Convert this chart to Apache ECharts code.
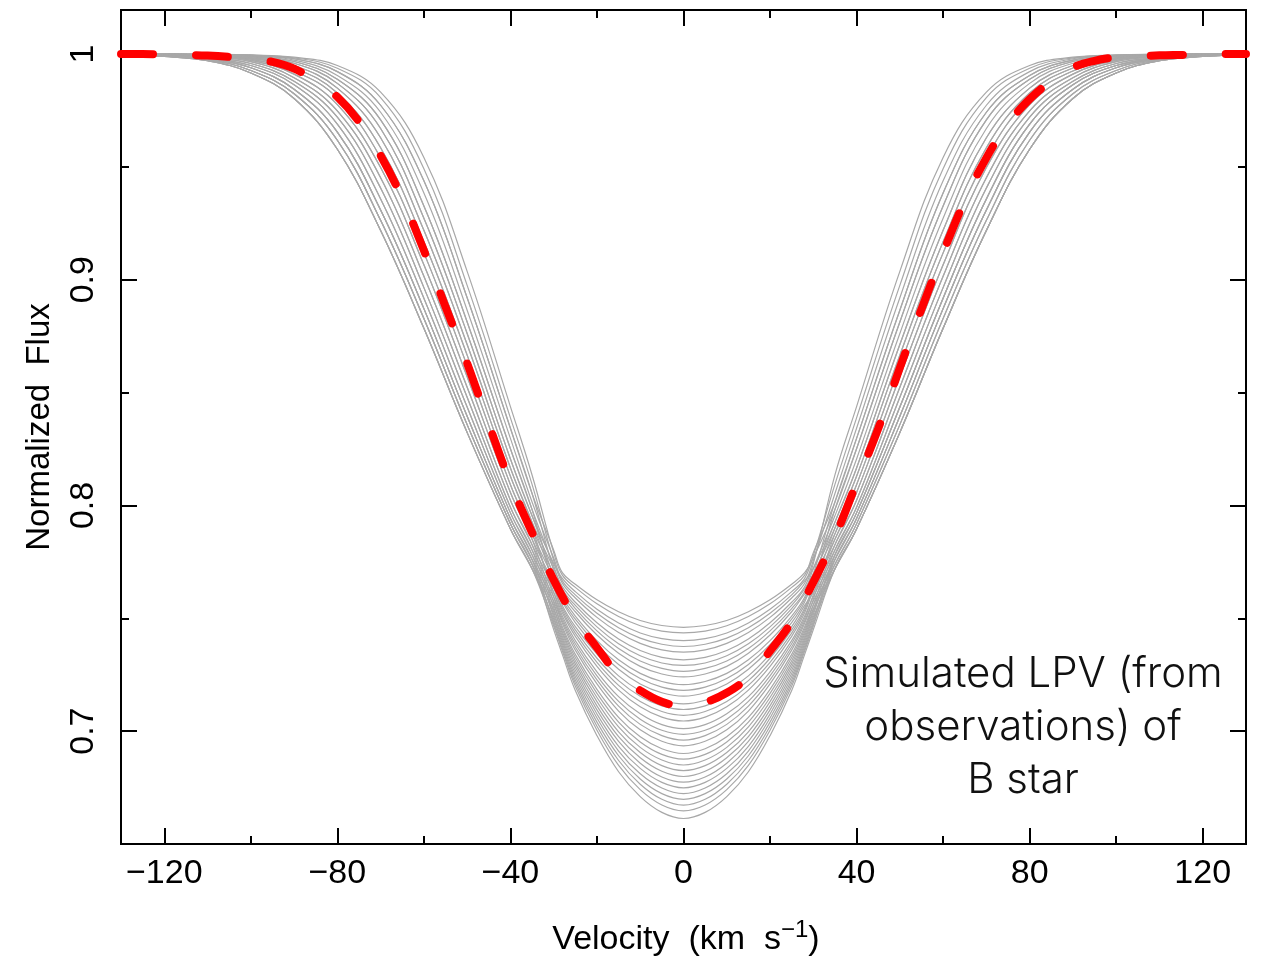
<!DOCTYPE html>
<html>
<head>
<meta charset="utf-8">
<script src="https://cdn.jsdelivr.net/npm/echarts@6/dist/echarts.min.js"></script>
<style>
html,body{margin:0;padding:0;background:#fff;}
#chart{width:1261px;height:959px;}
</style>
</head>
<body>
<div id="chart"></div>
<script>
// Velocity grids (km/s)
const velocityWing = [35, 40, 50, 60, 70, 80, 90, 100, 110, 120, 130];
const velocityCore = [-30, -28, -25, -20, -15, -10, -5, 0, 5, 10, 15, 20, 25, 28, 30];

// Wing profiles (flux at |v| = velocityWing), narrow -> wide
const wingProfiles = [
  [0.8135, 0.8438, 0.9037, 0.9542, 0.9831, 0.9949, 0.9986, 0.9996, 0.9999, 1.0, 1.0],
  [0.8093, 0.8388, 0.8975, 0.9492, 0.9807, 0.9937, 0.9983, 0.9995, 0.9999, 1.0, 1.0],
  [0.8053, 0.8342, 0.8920, 0.9438, 0.9773, 0.9922, 0.9979, 0.9994, 0.9998, 1.0, 1.0],
  [0.8015, 0.8297, 0.8865, 0.9384, 0.9742, 0.9905, 0.9973, 0.9992, 0.9998, 1.0, 1.0],
  [0.7982, 0.8251, 0.8813, 0.9327, 0.9708, 0.9888, 0.9967, 0.9990, 0.9997, 0.9999, 1.0],
  [0.7954, 0.8206, 0.8762, 0.9272, 0.9670, 0.9870, 0.9959, 0.9988, 0.9996, 0.9999, 1.0],
  [0.7926, 0.8166, 0.8713, 0.9219, 0.9629, 0.9849, 0.9949, 0.9984, 0.9995, 0.9999, 1.0],
  [0.7900, 0.8129, 0.8666, 0.9168, 0.9585, 0.9827, 0.9938, 0.9981, 0.9994, 0.9998, 1.0],
  [0.7874, 0.8092, 0.8619, 0.9119, 0.9540, 0.9805, 0.9925, 0.9977, 0.9993, 0.9998, 1.0],
  [0.7850, 0.8057, 0.8570, 0.9066, 0.9497, 0.9776, 0.9911, 0.9972, 0.9990, 0.9997, 0.9999],
  [0.7826, 0.8023, 0.8524, 0.9015, 0.9452, 0.9748, 0.9895, 0.9966, 0.9988, 0.9996, 0.9999],
  [0.7803, 0.7992, 0.8479, 0.8965, 0.9406, 0.9720, 0.9879, 0.9958, 0.9985, 0.9995, 0.9999],
  [0.7781, 0.7967, 0.8436, 0.8918, 0.9358, 0.9689, 0.9864, 0.9949, 0.9982, 0.9994, 0.9998],
  [0.7760, 0.7942, 0.8395, 0.8872, 0.9309, 0.9654, 0.9844, 0.9939, 0.9979, 0.9993, 0.9998],
  [0.7739, 0.7919, 0.8358, 0.8828, 0.9263, 0.9618, 0.9824, 0.9927, 0.9975, 0.9990, 0.9997],
  [0.7719, 0.7896, 0.8323, 0.8785, 0.9218, 0.9578, 0.9803, 0.9916, 0.9970, 0.9989, 0.9996]
];

// Line cores (flux at velocityCore), shallow -> deep
const coreProfiles = [
  [0.7802, 0.7702, 0.7651, 0.7582, 0.7529, 0.7490, 0.7468, 0.7460, 0.7468, 0.7490, 0.7529, 0.7582, 0.7651, 0.7702, 0.7768],
  [0.7791, 0.7691, 0.7637, 0.7564, 0.7508, 0.7467, 0.7443, 0.7435, 0.7443, 0.7467, 0.7508, 0.7564, 0.7637, 0.7691, 0.7791],
  [0.7743, 0.7677, 0.7618, 0.7540, 0.7479, 0.7435, 0.7410, 0.7401, 0.7410, 0.7435, 0.7479, 0.7540, 0.7618, 0.7677, 0.7778],
  [0.7767, 0.7666, 0.7604, 0.7522, 0.7458, 0.7412, 0.7385, 0.7375, 0.7385, 0.7412, 0.7458, 0.7522, 0.7604, 0.7666, 0.7720],
  [0.7756, 0.7655, 0.7590, 0.7504, 0.7437, 0.7389, 0.7360, 0.7350, 0.7360, 0.7389, 0.7437, 0.7504, 0.7590, 0.7655, 0.7756],
  [0.7720, 0.7640, 0.7571, 0.7480, 0.7408, 0.7357, 0.7327, 0.7316, 0.7327, 0.7357, 0.7408, 0.7480, 0.7571, 0.7640, 0.7742],
  [0.7732, 0.7630, 0.7557, 0.7462, 0.7387, 0.7334, 0.7302, 0.7291, 0.7302, 0.7334, 0.7387, 0.7462, 0.7557, 0.7630, 0.7697],
  [0.7697, 0.7619, 0.7543, 0.7444, 0.7366, 0.7311, 0.7278, 0.7265, 0.7278, 0.7311, 0.7366, 0.7444, 0.7543, 0.7619, 0.7721],
  [0.7711, 0.7608, 0.7529, 0.7426, 0.7345, 0.7287, 0.7253, 0.7240, 0.7253, 0.7287, 0.7345, 0.7426, 0.7529, 0.7608, 0.7654],
  [0.7675, 0.7593, 0.7510, 0.7401, 0.7316, 0.7256, 0.7220, 0.7206, 0.7220, 0.7256, 0.7316, 0.7401, 0.7510, 0.7593, 0.7696],
  [0.7686, 0.7583, 0.7496, 0.7383, 0.7295, 0.7233, 0.7195, 0.7181, 0.7195, 0.7233, 0.7295, 0.7383, 0.7496, 0.7583, 0.7675],
  [0.7654, 0.7572, 0.7481, 0.7365, 0.7274, 0.7209, 0.7170, 0.7155, 0.7170, 0.7209, 0.7274, 0.7365, 0.7481, 0.7572, 0.7676],
  [0.7661, 0.7557, 0.7463, 0.7341, 0.7245, 0.7178, 0.7137, 0.7121, 0.7137, 0.7178, 0.7245, 0.7341, 0.7463, 0.7557, 0.7614],
  [0.7634, 0.7546, 0.7449, 0.7323, 0.7224, 0.7155, 0.7112, 0.7096, 0.7112, 0.7155, 0.7224, 0.7323, 0.7449, 0.7546, 0.7650],
  [0.7641, 0.7536, 0.7434, 0.7305, 0.7203, 0.7131, 0.7087, 0.7070, 0.7087, 0.7131, 0.7203, 0.7305, 0.7434, 0.7536, 0.7634],
  [0.7614, 0.7525, 0.7420, 0.7287, 0.7182, 0.7108, 0.7062, 0.7045, 0.7062, 0.7108, 0.7182, 0.7287, 0.7420, 0.7525, 0.7630],
  [0.7615, 0.7510, 0.7401, 0.7263, 0.7153, 0.7077, 0.7029, 0.7011, 0.7029, 0.7077, 0.7153, 0.7263, 0.7401, 0.7510, 0.7595],
  [0.7595, 0.7499, 0.7387, 0.7245, 0.7132, 0.7053, 0.7004, 0.6986, 0.7004, 0.7053, 0.7132, 0.7245, 0.7387, 0.7499, 0.7605],
  [0.7594, 0.7488, 0.7373, 0.7227, 0.7111, 0.7030, 0.6980, 0.6960, 0.6980, 0.7030, 0.7111, 0.7227, 0.7373, 0.7488, 0.7577],
  [0.7577, 0.7478, 0.7359, 0.7209, 0.7089, 0.7006, 0.6955, 0.6935, 0.6955, 0.7006, 0.7089, 0.7209, 0.7359, 0.7478, 0.7584],
  [0.7570, 0.7463, 0.7340, 0.7185, 0.7061, 0.6975, 0.6922, 0.6901, 0.6922, 0.6975, 0.7061, 0.7185, 0.7340, 0.7463, 0.7559],
  [0.7559, 0.7452, 0.7326, 0.7167, 0.7040, 0.6952, 0.6897, 0.6876, 0.6897, 0.6952, 0.7040, 0.7167, 0.7326, 0.7452, 0.7559],
  [0.7548, 0.7441, 0.7312, 0.7149, 0.7019, 0.6928, 0.6872, 0.6850, 0.6872, 0.6928, 0.7019, 0.7149, 0.7312, 0.7441, 0.7542],
  [0.7538, 0.7431, 0.7298, 0.7131, 0.6997, 0.6905, 0.6847, 0.6825, 0.6847, 0.6905, 0.6997, 0.7131, 0.7298, 0.7431, 0.7538],
  [0.7528, 0.7420, 0.7284, 0.7112, 0.6976, 0.6882, 0.6822, 0.6799, 0.6822, 0.6882, 0.6976, 0.7112, 0.7284, 0.7420, 0.7528],
  [0.7517, 0.7409, 0.7270, 0.7094, 0.6955, 0.6858, 0.6797, 0.6774, 0.6797, 0.6858, 0.6955, 0.7094, 0.7270, 0.7409, 0.7517],
  [0.7506, 0.7398, 0.7255, 0.7076, 0.6933, 0.6835, 0.6773, 0.6749, 0.6773, 0.6835, 0.6933, 0.7076, 0.7255, 0.7398, 0.7506],
  [0.7496, 0.7387, 0.7241, 0.7058, 0.6912, 0.6811, 0.6748, 0.6723, 0.6748, 0.6811, 0.6912, 0.7058, 0.7241, 0.7387, 0.7496],
  [0.7485, 0.7376, 0.7227, 0.7040, 0.6891, 0.6788, 0.6723, 0.6698, 0.6723, 0.6788, 0.6891, 0.7040, 0.7227, 0.7376, 0.7485],
  [0.7475, 0.7365, 0.7213, 0.7022, 0.6870, 0.6765, 0.6698, 0.6672, 0.6698, 0.6765, 0.6870, 0.7022, 0.7213, 0.7365, 0.7475],
  [0.7466, 0.7355, 0.7199, 0.7004, 0.6848, 0.6741, 0.6673, 0.6647, 0.6673, 0.6741, 0.6848, 0.7004, 0.7199, 0.7355, 0.7466],
  [0.7450, 0.7340, 0.7180, 0.6980, 0.6820, 0.6710, 0.6640, 0.6613, 0.6640, 0.6710, 0.6820, 0.6980, 0.7180, 0.7340, 0.7450]
];

// Which wing profile each simulated profile uses on the left and right side
const leftWing  = [2, 0, 5, 3, 1, 6, 4, 7, 2, 8, 5, 9, 6, 10, 4, 11, 8, 12, 7, 13, 9, 14, 10, 15, 11, 13, 12, 15, 14, 13, 15, 14];
const rightWing = [4, 3, 1, 6, 2, 0, 7, 5, 9, 3, 8, 6, 11, 4, 10, 7, 12, 9, 13, 8, 14, 10, 15, 11, 13, 12, 15, 14, 12, 15, 13, 15];

// Mean (red dashed) profile
const meanVelocity = [-130, -125, -120, -115, -110, -105, -100, -95, -90, -85, -80, -75, -70, -65, -60, -55, -50, -45, -40, -35, -30, -25, -20, -15, -10, -5, 0,
  5, 10, 15, 20, 25, 30, 35, 40, 45, 50, 55, 60, 65, 70, 75, 80, 85, 90, 95, 100, 105, 110, 115, 120, 125, 130];
const meanFlux = [1.000, 1.000, 0.9998, 0.9996, 0.9993, 0.9987, 0.9978, 0.9965, 0.9935, 0.988, 0.981, 0.970, 0.955, 0.936, 0.913, 0.888, 0.863, 0.836, 0.810, 0.788, 0.767, 0.750, 0.737, 0.725, 0.718, 0.713, 0.711,
  0.7128, 0.717, 0.724, 0.7355, 0.7485, 0.766, 0.786, 0.810, 0.834, 0.861, 0.887, 0.912, 0.935, 0.954, 0.969, 0.980, 0.988, 0.994, 0.997, 0.9985, 0.9990, 0.9994, 0.9996, 0.9998, 1.000, 1.000];

// Axis ticks
const xMajorTicks = [-120, -80, -40, 0, 40, 80, 120];
const xMinorTicks = [-100, -60, -20, 20, 60, 100];
const yMajorTicks = [0.7, 0.8, 0.9, 1.0];
const yMinorTicks = [0.75, 0.85, 0.95];

const annotationLines = ['Simulated LPV (from', 'observations) of', 'B star'];

// ---------- build series ----------
const series = [];
for (let k = 0; k < coreProfiles.length; k++) {
  const data = [];
  const lw = wingProfiles[leftWing[k]];
  const rw = wingProfiles[rightWing[k]];
  for (let j = velocityWing.length - 1; j >= 0; j--) data.push([-velocityWing[j], lw[j]]);
  for (let j = 0; j < velocityCore.length; j++) data.push([velocityCore[j], coreProfiles[k][j]]);
  for (let j = 0; j < velocityWing.length; j++) data.push([velocityWing[j], rw[j]]);
  series.push({
    type: 'line', data, showSymbol: false, silent: true,
    smooth: 0.4,
    lineStyle: { color: '#a8a8a8', width: 1.2 },
    z: 2, animation: false
  });
}
series.push({
  type: 'line',
  data: meanVelocity.map((v, i) => [v, meanFlux[i]]),
  showSymbol: false, silent: true, smooth: 0.4, clip: false,
  lineStyle: { color: '#ff0000', width: 8, type: [32, 43], cap: 'round' },
  z: 5, animation: false
});

const black = '#000000';
const tickFont = 'Liberation Sans';
function xAx(pos, ticks, len, labels) {
  return {
    type: 'value', position: pos, min: -130, max: 130,
    axisLine: { show: true, onZero: false, lineStyle: { color: black, width: 2 } },
    axisTick: { show: true, inside: true, length: len, customValues: ticks, lineStyle: { color: black, width: 2 } },
    axisLabel: labels ? {
      show: true, customValues: ticks, margin: 13, color: black, fontSize: 34, fontFamily: tickFont,
      formatter: v => (v < 0 ? '\u2212' + Math.abs(v) : String(v))
    } : { show: false },
    splitLine: { show: false }
  };
}
function yAx(pos, ticks, len, labels) {
  return {
    type: 'value', position: pos, min: 0.65, max: 1.0195,
    axisLine: { show: true, onZero: false, lineStyle: { color: black, width: 2 } },
    axisTick: { show: true, inside: true, length: len, customValues: ticks, lineStyle: { color: black, width: 2 } },
    axisLabel: labels ? {
      show: true, customValues: ticks, margin: 20, rotate: 90, color: black, fontSize: 34, fontFamily: tickFont,
      formatter: v => (Math.abs(v - 1) < 1e-9 ? '1' : v.toFixed(1))
    } : { show: false },
    splitLine: { show: false }
  };
}

const chart = echarts.init(document.getElementById('chart'), null, { renderer: 'canvas' });
chart.setOption({
  backgroundColor: '#ffffff',
  animation: false,
  grid: { left: 121, right: 15, top: 10, bottom: 115, containLabel: false },
  xAxis: [
    xAx('bottom', xMajorTicks, 16, true),
    xAx('bottom', xMinorTicks, 8, false),
    xAx('top', xMajorTicks, 16, false),
    xAx('top', xMinorTicks, 8, false)
  ],
  yAxis: [
    yAx('left', yMajorTicks, 16, true),
    yAx('left', yMinorTicks, 8, false),
    yAx('right', yMajorTicks, 16, false),
    yAx('right', yMinorTicks, 8, false)
  ],
  series,
  graphic: [
    {
      type: 'text', x: 40, y: 427, rotation: Math.PI / 2,
      style: { text: 'Normalized  Flux', fill: black, font: '33px "Liberation Sans"', textAlign: 'center', textVerticalAlign: 'middle' }
    },
    {
      type: 'text', x: 686, y: 940,
      style: {
        text: '{a|Velocity  (km  s}{b|\u22121}{a|)}',
        textAlign: 'center', textVerticalAlign: 'middle',
        rich: {
          a: { fontSize: 34, fontFamily: 'Liberation Sans', fill: black, color: black },
          b: { fontSize: 24, fontFamily: 'Liberation Sans', fill: black, color: black, padding: [0, 0, 20, 0] }
        }
      }
    },
    {
      type: 'text', x: 1023, y: 727,
      style: {
        text: annotationLines.join('\n'), fill: '#111', font: '300 42px Inter',
        textAlign: 'center', textVerticalAlign: 'middle', lineHeight: 53
      }
    }
  ]
});
</script>
</body>
</html>
